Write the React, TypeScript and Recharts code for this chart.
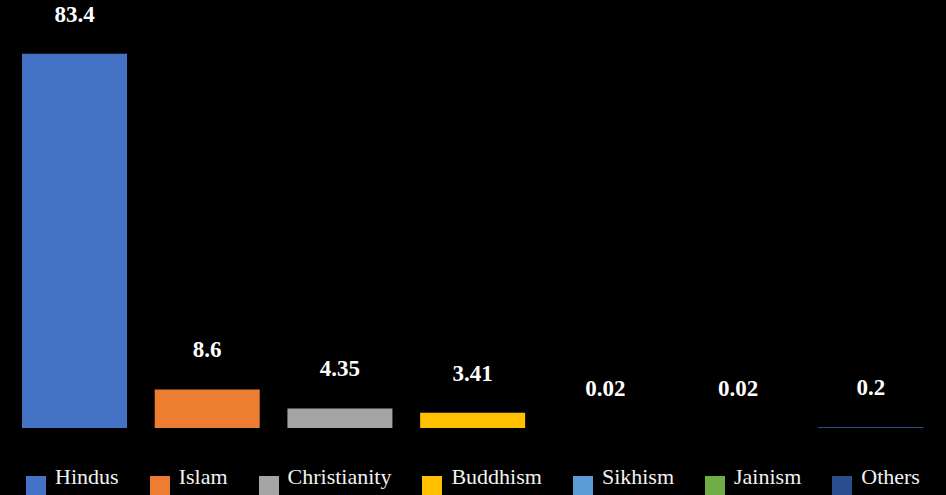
import { BarChart, Bar, XAxis, YAxis, Cell, LabelList } from "recharts";

const RELIGIONS = ["Hindus", "Islam", "Christianity", "Buddhism", "Sikhism", "Jainism", "Others"];
const SHARES = [83.4, 8.6, 4.35, 3.41, 0.02, 0.02, 0.2];
const COLORS = ["#4472C4", "#ED7D31", "#A5A5A5", "#FFC000", "#5B9BD5", "#70AD47", "#2B4F8E"];
const Y_DOMAIN = [0, 90];

const FONT = '"Liberation Serif", "DejaVu Serif", serif';

const data = RELIGIONS.map((name, i) => ({ name, value: SHARES[i] }));

export default function App() {
  return (
    <div style={{ position: "relative", width: 946, height: 495, background: "#000", overflow: "hidden" }}>
      <style>{`body{margin:0;background:#000}`}</style>
      <BarChart width={946} height={495} data={data} margin={{ top: 24, right: 9, bottom: 67, left: 8 }}>
        <XAxis dataKey="name" hide />
        <YAxis hide domain={Y_DOMAIN} />
        <Bar dataKey="value" barSize={105} isAnimationActive={false}>
          {data.map((_, i) => (
            <Cell key={i} fill={COLORS[i]} />
          ))}
          <LabelList
            dataKey="value"
            position="top"
            offset={32}
            fill="#ffffff"
            style={{ fontFamily: FONT, fontSize: 23, fontWeight: "bold" }}
          />
        </Bar>
      </BarChart>
      <div
        style={{
          position: "absolute",
          top: 464,
          left: 0,
          width: 946,
          display: "flex",
          justifyContent: "center",
          alignItems: "flex-start",
          gap: 31,
          fontFamily: FONT,
          fontSize: 22,
          lineHeight: "26px",
          color: "#f2f2f2",
        }}
      >
        {RELIGIONS.map((name, i) => (
          <div key={name} style={{ display: "flex", alignItems: "flex-start" }}>
            <span style={{ width: 20, height: 20, marginTop: 12, marginRight: 9, background: COLORS[i] }} />
            <span>{name}</span>
          </div>
        ))}
      </div>
    </div>
  );
}
